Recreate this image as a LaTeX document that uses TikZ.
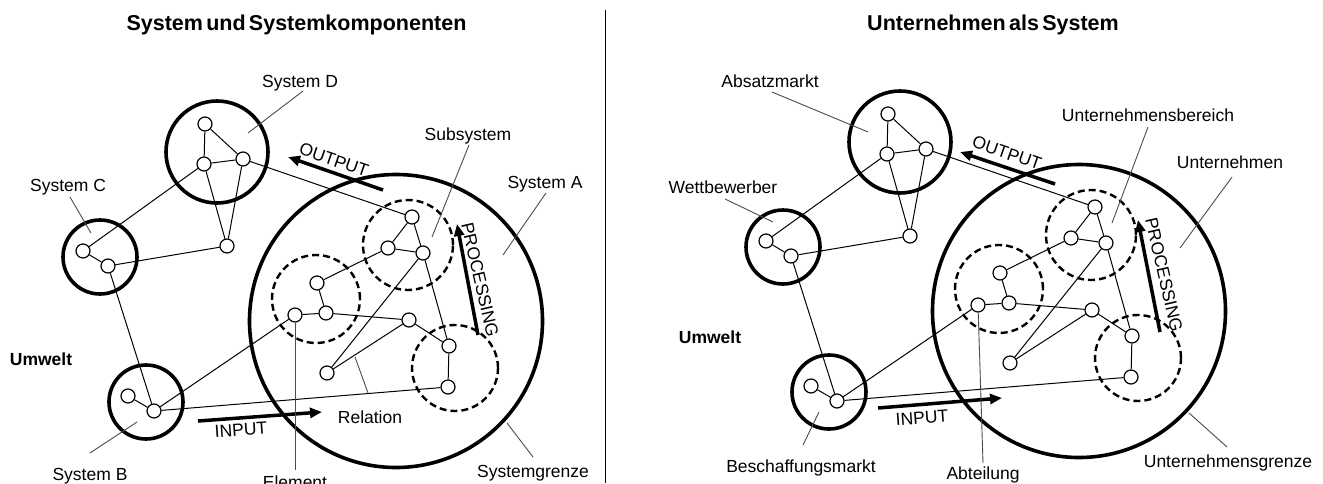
\documentclass[tikz,border=0pt]{standalone}
\usepackage{fontspec}
\setmainfont{Liberation Sans}
\newfontfamily\titlefam[WordSpace=0.55]{Liberation Sans}
\usetikzlibrary{arrows.meta}

\tikzset{
  ring/.style={circle, draw, line width=3.6pt, inner sep=0pt},
  subring/.style={circle, draw, line width=2.4pt, dash pattern=on 7pt off 4pt, inner sep=0pt},
  elem/.style={circle, draw, fill=white, line width=1.2pt, inner sep=0pt, minimum size=14pt},
  rel/.style={line width=1pt},
  leader/.style={line width=0.9pt, black!70},
  flow/.style={line width=3.5pt, -{Triangle[length=12pt,width=10pt]}},
  lbl/.style={font=\fontsize{17.5}{20}\selectfont, inner sep=1pt, anchor=base},
  boldlbl/.style={lbl, font=\bfseries\fontsize{17.5}{20}\selectfont},
  flowlbl/.style={font=\fontsize{17.5}{20}\selectfont, inner sep=0pt},
  ttl/.style={font=\titlefam\bfseries\fontsize{21.5}{24}\selectfont, anchor=base, inner sep=0pt},
}

% One system with its environment: rings, elements and relations
\newcommand\netzwerk{%
  \node[ring, minimum size=102pt] (ringD) at (217,152) {};
  \node[ring, minimum size=74pt]  (ringC) at (100,257) {};
  \node[ring, minimum size=74pt]  (ringB) at (146,402) {};
  \node[ring, minimum size=293pt] (ringA) at (396,321) {};
  \node[subring, minimum size=90pt] (subT) at (408,245) {};
  \node[subring, minimum size=88pt] (subL) at (316,299) {};
  \node[subring, minimum size=86pt] (subR) at (455,368) {};
  % elements
  \node[elem] (d1) at (205,124) {};
  \node[elem] (d2) at (204,164) {};
  \node[elem] (d3) at (243,159) {};
  \node[elem] (d4) at (227,246) {};
  \node[elem] (c1) at (83,251) {};
  \node[elem] (c2) at (108,266) {};
  \node[elem] (b1) at (128,396) {};
  \node[elem] (b2) at (154,411) {};
  \node[elem] (t1) at (412,217) {};
  \node[elem] (t2) at (388,248) {};
  \node[elem] (t3) at (423,253) {};
  \node[elem] (l1) at (317,283) {};
  \node[elem] (l2) at (295,315) {};
  \node[elem] (l3) at (326,313) {};
  \node[elem] (m1) at (409,320) {};
  \node[elem] (m2) at (327,373) {};
  \node[elem] (r1) at (449,346) {};
  \node[elem] (r2) at (448,387) {};
  % relations
  \draw[rel] (d1) -- (d2);
  \draw[rel] (d1) -- (d3);
  \draw[rel] (d2) -- (d3);
  \draw[rel] (d2) -- (d4);
  \draw[rel] (d3) -- (d4);
  \draw[rel] (d2) -- (c1);
  \draw[rel] (c1) -- (c2);
  \draw[rel] (c2) -- (d4);
  \draw[rel] (c2) -- (b2);
  \draw[rel] (b1) -- (b2);
  \draw[rel] (b2) -- (l2);
  \draw[rel] (b2) -- (r2);
  \draw[rel] (d3) -- (t1);
  \draw[rel] (t1) -- (t2);
  \draw[rel] (t1) -- (t3);
  \draw[rel] (t2) -- (t3);
  \draw[rel] (t2) -- (l1);
  \draw[rel] (t3) -- (m2);
  \draw[rel] (t3) -- (r1);
  \draw[rel] (l1) -- (l3);
  \draw[rel] (l2) -- (l3);
  \draw[rel] (l3) -- (m1);
  \draw[rel] (m1) -- (r1);
  \draw[rel] (m1) -- (m2);
  \draw[rel] (r1) -- (r2);
}

\begin{document}
\begin{tikzpicture}[x=1pt,y=-1pt]
\fill[white] (0,0) rectangle (1323,483);
\useasboundingbox (0,0) rectangle (1323,483);

% titles and divider
\node[ttl] (titleL) at (296.5,30) {System und Systemkomponenten};
\node[ttl] (titleR) at (993,30) {Unternehmen als System};
\coordinate (divTop) at (605,10);
\coordinate (divBot) at (605,483);
\draw[line width=1pt] (divTop) -- (divBot);

% ---------- left: system and components ----------
\begin{scope}[name prefix=L-]
  \netzwerk
\end{scope}

\coordinate (outL-a) at (383,190); \coordinate (outL-b) at (288,157);
\draw[flow] (outL-a) -- (outL-b);
\node[flowlbl, rotate=-19] (outL) at (334,160) {OUTPUT};
\coordinate (inL-a) at (198,421); \coordinate (inL-b) at (322,412);
\draw[flow] (inL-a) -- (inL-b);
\node[flowlbl, rotate=4] (inL) at (241,430) {INPUT};
\coordinate (prL-a) at (478,335); \coordinate (prL-b) at (457,224);
\draw[flow] (prL-a) -- (prL-b);
\node[flowlbl, rotate=-77] (prL) at (480,280) {PROCESSING};

\node[lbl] (labD) at (300,87) {System D};
\coordinate (labD-a) at (303,91); \coordinate (labD-b) at (248,133);
\draw[leader] (labD-a) -- (labD-b);
\node[lbl] (labC) at (68,191) {System C};
\coordinate (labC-a) at (70,197); \coordinate (labC-b) at (91,233);
\draw[leader] (labC-a) -- (labC-b);
\node[lbl] (labB) at (90,480) {System B};
\coordinate (labB-a) at (90,453); \coordinate (labB-b) at (137,422);
\draw[leader] (labB-a) -- (labB-b);
\node[boldlbl] (umweltL) at (41,365) {Umwelt};
\node[lbl] (labEl) at (295,488) {Element};
\coordinate (labEl-a) at (295,470);
\draw[leader] (L-l2) -- (labEl-a);
\node[lbl] (labRel) at (370,423) {Relation};
\coordinate (labRel-a) at (368,393); \coordinate (labRel-b) at (355,357);
\draw[leader] (labRel-a) -- (labRel-b);
\node[lbl] (labGr) at (533,477) {Systemgrenze};
\coordinate (labGr-a) at (533,457); \coordinate (labGr-b) at (507,423);
\draw[leader] (labGr-a) -- (labGr-b);
\node[lbl] (labSub) at (468,140) {Subsystem};
\coordinate (labSub-a) at (469,145); \coordinate (labSub-b) at (432,237);
\draw[leader] (labSub-a) -- (labSub-b);
\node[lbl] (labA) at (545,188) {System A};
\coordinate (labA-a) at (546,193); \coordinate (labA-b) at (503,255);
\draw[leader] (labA-a) -- (labA-b);

% ---------- right: the enterprise as a system ----------
\begin{scope}[shift={(683,-10)}, name prefix=R-]
  \netzwerk
\end{scope}

\coordinate (outR-a) at (1055,184); \coordinate (outR-b) at (960,152);
\draw[flow] (outR-a) -- (outR-b);
\node[flowlbl, rotate=-19] (outR) at (1007,153) {OUTPUT};
\coordinate (inR-a) at (878,408); \coordinate (inR-b) at (1002,398);
\draw[flow] (inR-a) -- (inR-b);
\node[flowlbl, rotate=4] (inR) at (922,418) {INPUT};
\coordinate (prR-a) at (1160,332); \coordinate (prR-b) at (1138,220);
\draw[flow] (prR-a) -- (prR-b);
\node[flowlbl, rotate=-77] (prR) at (1164,275) {PROCESSING};

\node[lbl] (labAbs) at (770,87) {Absatzmarkt};
\coordinate (labAbs-a) at (772,92); \coordinate (labAbs-b) at (868,132);
\draw[leader] (labAbs-a) -- (labAbs-b);
\node[lbl] (labWett) at (723,193) {Wettbewerber};
\coordinate (labWett-a) at (725,199); \coordinate (labWett-b) at (773,222);
\draw[leader] (labWett-a) -- (labWett-b);
\node[lbl] (labBes) at (801,472) {Beschaffungsmarkt};
\coordinate (labBes-a) at (803,445); \coordinate (labBes-b) at (819,412);
\draw[leader] (labBes-a) -- (labBes-b);
\node[boldlbl] (umweltR) at (710,343) {Umwelt};
\node[lbl] (labAbt) at (983,479) {Abteilung};
\coordinate (labAbt-a) at (983,463);
\draw[leader] (R-l2) -- (labAbt-a);
\node[lbl] (labUg) at (1228,467) {Unternehmensgrenze};
\coordinate (labUg-a) at (1227,447); \coordinate (labUg-b) at (1189,413);
\draw[leader] (labUg-a) -- (labUg-b);
\node[lbl] (labU) at (1230,168) {Unternehmen};
\coordinate (labU-a) at (1232,177); \coordinate (labU-b) at (1180,248);
\draw[leader] (labU-a) -- (labU-b);
\node[lbl] (labUb) at (1148,121) {Unternehmensbereich};
\coordinate (labUb-a) at (1148,127); \coordinate (labUb-b) at (1112,223);
\draw[leader] (labUb-a) -- (labUb-b);
\end{tikzpicture}
\end{document}
